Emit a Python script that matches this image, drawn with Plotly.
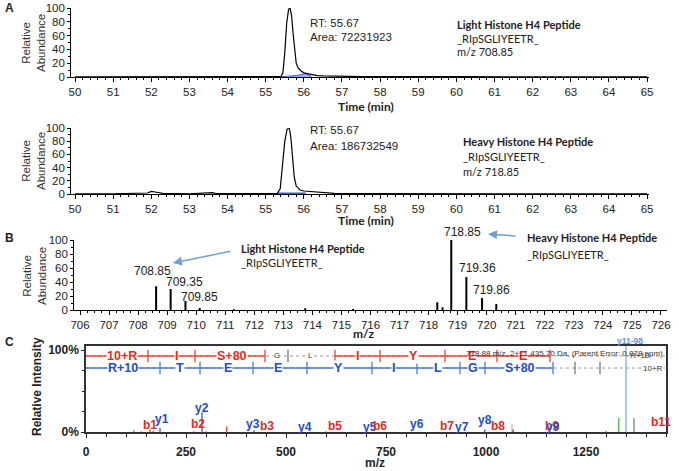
import plotly.graph_objects as go

W, H = 679, 471

# ---- Panel A: extracted ion chromatograms (time in min, relative abundance %)
light_rt = [50.0, 51.0, 52.0, 53.0, 54.0, 55.0, 55.40, 55.45, 55.50, 55.55, 55.60, 55.64,
            55.68, 55.72, 55.76, 55.80, 55.85, 55.92, 56.00, 56.10, 56.20, 56.35, 56.50,
            56.80, 57.5, 60.0, 65.0]
light_ab = [0.3, 0.3, 0.3, 0.3, 0.3, 0.3, 0.5, 6, 35, 78, 98, 100, 88, 62, 36, 20, 13, 9,
            6, 5, 3, 2, 1.5, 1, 0.6, 0.4, 0.3]
light_area_rt = [55.42, 55.6, 55.8, 55.95, 56.05, 56.12, 56.2]
light_area_ab = [0.5, 1, 2, 4, 5, 3, 0.8]

heavy_rt = [50.0, 51.0, 51.9, 52.0, 52.1, 52.3, 53.0, 53.55, 53.6, 53.7, 54.5, 55.3, 55.38,
            55.44, 55.50, 55.56, 55.62, 55.66, 55.70, 55.75, 55.80, 55.90, 56.0, 56.2, 56.4,
            56.55, 56.8, 57.5, 60.0, 65.0]
heavy_ab = [0.3, 0.3, 1.5, 4, 3, 1, 0.4, 1.5, 2, 0.6, 0.3, 0.5, 8, 40, 80, 98, 100, 85, 55,
            25, 12, 6, 4.5, 3.5, 3, 2.5, 1, 0.5, 0.3, 0.3]
heavy_area_rt = [55.3, 55.6, 55.9, 56.05]
heavy_area_ab = [1.2, 1.5, 1.5, 1.2]

# ---- Panel B: MS1 spectrum
ms1_mz = [708.62, 709.12, 709.63, 710.12, 711.3, 713.75, 715.4, 718.30, 718.48, 718.78,
          719.30, 719.84, 720.33]
ms1_ab = [34, 30, 13, 3, 1, 2.5, 1.5, 11, 4, 100, 47, 17, 8.5]
ms1_labels = ["708.85", "709.35", "709.85", "718.85", "719.36", "719.86"]
ms1_label_mz = [708.51, 709.61, 710.1, 719.15, 719.67, 720.15]
ms1_label_ab = [56, 40, 18, 112, 60, 29]

# ---- Panel C: MS/MS spectrum (m/z, relative intensity %)
b_peak_mz = [160, 352]
b_peak_int = [3, 7]
b_faint_mz = [1065]
b_faint_int = [9]
y_peak_mz = [185, 290, 420, 997, 1068]
y_peak_int = [5, 24, 2, 3, 3]
other_peak_mz = [120, 138, 168, 270, 300, 600, 1300, 1370]
other_peak_int = [2.5, 1, 1.5, 1, 1, 1, 1.5, 17]
green_peak_mz = [1332]
green_peak_int = [17]
precursor_mz = [1350]
precursor_int = [105]

ion_labels = ["b1", "y1", "b2", "y2", "y3", "b3", "y4", "b5", "y5", "b6", "y6", "b7", "y7",
              "y8", "b8", "b9", "y9", "b11"]
ion_mz = [160, 190, 280, 290, 418, 452, 548, 623, 710, 735, 828, 902, 940, 997, 1030,
          1165, 1168, 1438]
ion_int = [8.5, 16, 10, 29, 10, 7.5, 6, 7.5, 6, 7.5, 10, 7.5, 6, 15, 7.5, 7.5, 6, 12]

# sequence coverage ladders
b_ticks_mz = [155, 272.5, 447.5, 505, 622.5, 735, 897.5, 1027.5, 1160]
b_ticks_found = [1, 1, 1, 0, 1, 1, 1, 1, 1]
b_spans = [(0, 447.5), (622.5, 1160)]
b_residues = ["10+R", "I", "S+80", "G", "L", "I", "Y", "E", "E", "R+10"]
b_residue_mz = [90, 225, 365, 477.5, 560, 677.5, 817.5, 965, 1092.5, 1385]
b_residue_found = [1, 1, 1, 0, 0, 1, 1, 1, 1, 0]

y_ticks_mz = [185, 285, 417.5, 552.5, 715, 827.5, 935, 997.5, 1167.5, 1222.5, 1285]
y_ticks_found = [1, 1, 1, 1, 1, 1, 1, 1, 1, 0, 0]
y_spans = [(0, 1167.5)]
y_residues = ["R+10", "T", "E", "E", "Y", "I", "L", "G", "S+80", "10+R"]
y_residue_mz = [92.5, 235, 355, 480, 630, 767.5, 880, 967.5, 1085, 1417.5]
y_residue_found = [1, 1, 1, 1, 1, 1, 1, 1, 1, 0]

RED = "rgb(222,45,30)"
BLUE = "rgb(35,75,200)"
RED_LINE = "rgb(232,70,50)"
BLUE_LINE = "rgb(70,125,215)"
GRAY = "rgb(120,120,120)"
ARIAL = "Liberation Sans, Arial, sans-serif"
CALIBRI = "Lato, Open Sans, sans-serif"


def px(x):
    return x / W


def py(y):
    return 1 - y / H


def sticks(xs, ys):
    sx, sy = [], []
    for a, b in zip(xs, ys):
        sx += [a, a, None]
        sy += [0, b, None]
    return sx, sy


fig = go.Figure()

# chromatograms
fig.add_trace(go.Scatter(x=light_area_rt, y=light_area_ab, mode="lines", fill="tozeroy",
                         line=dict(color="rgb(60,90,220)", width=1),
                         fillcolor="rgba(90,120,230,0.6)", xaxis="x", yaxis="y"))
fig.add_trace(go.Scatter(x=light_rt, y=light_ab, mode="lines",
                         line=dict(color="black", width=1.2), xaxis="x", yaxis="y"))
fig.add_trace(go.Scatter(x=heavy_area_rt, y=heavy_area_ab, mode="lines",
                         line=dict(color="rgb(60,90,220)", width=1.5), xaxis="x2", yaxis="y2"))
fig.add_trace(go.Scatter(x=heavy_rt, y=heavy_ab, mode="lines",
                         line=dict(color="black", width=1.2), xaxis="x2", yaxis="y2"))

# MS1 sticks
sx, sy = sticks(ms1_mz, ms1_ab)
fig.add_trace(go.Scatter(x=sx, y=sy, mode="lines", line=dict(color="black", width=2),
                         xaxis="x3", yaxis="y3", cliponaxis=False))

# MS2 sticks
for xs, ys, col, w in [
    (other_peak_mz, other_peak_int, "rgb(90,90,90)", 1),
    (b_peak_mz, b_peak_int, RED, 1.2),
    (b_faint_mz, b_faint_int, "rgb(245,150,140)", 1.2),
    (y_peak_mz, y_peak_int, BLUE, 1.2),
    (green_peak_mz, green_peak_int, "rgb(60,170,60)", 1.2),
    (precursor_mz, precursor_int, "rgb(150,180,240)", 1.5),
]:
    sx, sy = sticks(xs, ys)
    fig.add_trace(go.Scatter(x=sx, y=sy, mode="lines", line=dict(color=col, width=w),
                             xaxis="x4", yaxis="y4", cliponaxis=False))

# sequence ladders
for level, spans, ticks, found, col, lcol in [
    (92.8, b_spans, b_ticks_mz, b_ticks_found, RED, RED_LINE),
    (78.1, y_spans, y_ticks_mz, y_ticks_found, BLUE, BLUE_LINE),
]:
    fig.add_trace(go.Scatter(x=[0, 1450], y=[level, level], mode="lines",
                             line=dict(color="rgb(150,150,150)", width=1, dash="dot"),
                             xaxis="x4", yaxis="y4"))
    for a, b in spans:
        fig.add_trace(go.Scatter(x=[a, b], y=[level, level], mode="lines",
                                 line=dict(color=lcol, width=1.5), xaxis="x4", yaxis="y4"))
    fig.add_trace(go.Scatter(
        x=ticks, y=[level] * len(ticks), mode="markers",
        marker=dict(symbol="line-ns", size=9,
                    line=dict(width=1.3, color=[lcol if f else GRAY for f in found])),
        xaxis="x4", yaxis="y4"))

ann = []


def text(x, y, s, size=11, family=ARIAL, color="#222", bold=False, xanchor="left",
         xref="paper", yref="paper", angle=0, bg=None):
    d = dict(x=x, y=y, text=s, showarrow=False, xref=xref, yref=yref, xanchor=xanchor,
             yanchor="middle", textangle=angle,
             font=dict(family=family, size=size, color=color,
                       weight="bold" if bold else "normal"))
    if bg:
        d.update(bgcolor=bg, borderpad=0)
    ann.append(d)


# panel letters
text(px(3), py(8), "A", 12, bold=True)
text(px(3), py(238), "B", 12, bold=True)
text(px(3), py(342), "C", 12, bold=True)

# y titles A/B
for cy in [43, 161, 276]:
    text(px(34), py(cy), "Relative<br>Abundance", 11.5, color="#333", xanchor="center",
         angle=-90)

# A text
text(px(308), py(23), "RT: 55.67", 11.5)
text(px(308), py(37), "Area: 72231923", 11.5)
text(px(455), py(25), "Light Histone H4 Peptide", 11, CALIBRI, bold=True)
text(px(455), py(39), "_RIpSGLIYEETR_", 11, CALIBRI)
text(px(455), py(52), "m/z 708.85", 11, CALIBRI)
text(px(366), py(107), "Time (min)", 12, CALIBRI, bold=True, xanchor="center")

text(px(308), py(130), "RT: 55.67", 11.5)
text(px(308), py(146), "Area: 186732549", 11.5)
text(px(461), py(142), "Heavy Histone H4 Peptide", 11, CALIBRI, bold=True)
text(px(461), py(157), "_RIpSGLIYEETR_", 11, CALIBRI)
text(px(461), py(172), "m/z 718.85", 11, CALIBRI)
text(px(366), py(220), "Time (min)", 12, CALIBRI, bold=True, xanchor="center")

# B text (label values sit in data space; the base peak label above the axis top in paper space)
for s, m, a in zip(ms1_labels, ms1_label_mz, ms1_label_ab):
    if a > 100:
        text(px(80 + (m - 706) * 29.05), py(310 - a * 0.7), s, 12, xanchor="center")
    else:
        text(m, a, s, 12, color="#222", xanchor="center", xref="x3", yref="y3")
text(px(239), py(248), "Light Histone H4 Peptide", 11, CALIBRI, bold=True)
text(px(239), py(262), "_RIpSGLIYEETR_", 11, CALIBRI)
text(px(525), py(237), "Heavy Histone H4 Peptide", 11, CALIBRI, bold=True)
text(px(525), py(254), "_RIpSGLIYEETR_", 11, CALIBRI)
text(px(363), py(333), "m/z", 12, CALIBRI, bold=True, xanchor="center")
for hx, hy, ax, ay in [(173, 263, 59, -12), (488, 234, 29, 2)]:
    ann.append(dict(x=px(hx), y=py(hy), xref="paper", yref="paper", ax=ax, ay=ay,
                    showarrow=True, arrowhead=2, arrowsize=1.2, arrowwidth=1.5,
                    arrowcolor="rgb(110,160,215)", text=""))

# C text
for lab, res_mz, res_found, level, col in [
    (b_residues, b_residue_mz, b_residue_found, 92.8, RED),
    (y_residues, y_residue_mz, y_residue_found, 78.1, BLUE),
]:
    for s, m, f in zip(lab, res_mz, res_found):
        if f:
            text(m, level, s, 12.5, color=col, bold=True, xanchor="center", xref="x4",
                 yref="y4", bg="white")
        else:
            text(m, level, s, 8, color="#333", xanchor="center", xref="x4", yref="y4",
                 bg="white")
text(1447, 95.5, "718.88 m/z, 2+, 1,435.70 Da, (Parent Error: 0.078 ppm)", 8,
     color="#333", xanchor="right", xref="x4", yref="y4")
text(px(630), py(341), "y11-98", 8.5, color="rgb(100,150,230)", bold=True,
     xanchor="center")
for s, m, a in zip(ion_labels, ion_mz, ion_int):
    text(m, a, s, 12, color=RED if s[0] == "b" else BLUE, bold=True, xanchor="center",
         xref="x4", yref="y4")
text(px(37), py(387), "Relative Intensity", 12, color="#222", bold=True,
     xanchor="center", angle=-90)
text(px(375), py(463), "m/z", 12, color="#222", bold=True, xanchor="center")


def ab_xaxis(domain, rng, minor):
    return dict(domain=domain, range=rng, dtick=1, ticks="outside", ticklen=4,
                tickcolor="black", showline=True, linecolor="black", linewidth=1,
                showgrid=False, zeroline=False, automargin=False,
                tickfont=dict(family=ARIAL, size=11.5, color="#222"),
                minor=dict(dtick=minor, ticks="outside", ticklen=2, tickcolor="black"))


def ab_yaxis(domain, anchor):
    return dict(domain=domain, range=[0, 100], anchor=anchor, tickvals=[0, 20, 40, 60, 80, 100],
                ticks="outside", ticklen=3, tickcolor="black", showline=True,
                linecolor="black", linewidth=1, showgrid=False, zeroline=False,
                automargin=False,
                tickfont=dict(family=ARIAL, size=11.5, color="#222"),
                minor=dict(dtick=10, ticks="outside", ticklen=2, tickcolor="black"))


fig.update_layout(
    width=W, height=H, autosize=False, showlegend=False,
    margin=dict(l=0, r=0, t=0, b=0),
    paper_bgcolor="white", plot_bgcolor="white",
    xaxis=ab_xaxis([px(71.2), px(649)], [49.9, 65.05], 0.2) | dict(anchor="y"),
    yaxis=ab_yaxis([py(77), py(8)], "x"),
    xaxis2=ab_xaxis([px(71.2), px(649)], [49.9, 65.05], 0.2) | dict(anchor="y2"),
    yaxis2=ab_yaxis([py(194), py(128)], "x2"),
    xaxis3=ab_xaxis([px(74.2), px(666.8)], [705.8, 726.2], 0.25) | dict(anchor="y3"),
    yaxis3=ab_yaxis([py(310), py(240)], "x3"),
    xaxis4=dict(domain=[px(86), px(666)], range=[0, 1450], anchor="y4",
                tickvals=[0, 250, 500, 750, 1000, 1250], ticks="outside", ticklen=4,
                tickcolor="#222", showline=True, mirror=True, linecolor="#333",
                linewidth=1.5, showgrid=False, zeroline=False, ticklabelstandoff=4,
                automargin=False,
                tickfont=dict(family=ARIAL, size=12, color="#222", weight="bold"),
                minor=dict(dtick=50, ticks="outside", ticklen=3, tickcolor="#222")),
    yaxis4=dict(domain=[py(432), py(346)], range=[0, 105], anchor="x4",
                tickvals=[0, 100], ticktext=["0%", "100%"], ticks="outside", ticklen=3,
                tickcolor="#222", showline=True, mirror=True, linecolor="#333",
                linewidth=1.5, showgrid=False, zeroline=False, automargin=False,
                tickfont=dict(family=ARIAL, size=12, color="#222", weight="bold"),
                minor=dict(dtick=25, ticks="outside", ticklen=2, tickcolor="#222")),
    annotations=ann,
)

# drop the browser's default page margin so the figure sits at the window origin
fig.write_html("out.html", config={"displayModeBar": False},
               post_script="document.body.style.margin='0';")
